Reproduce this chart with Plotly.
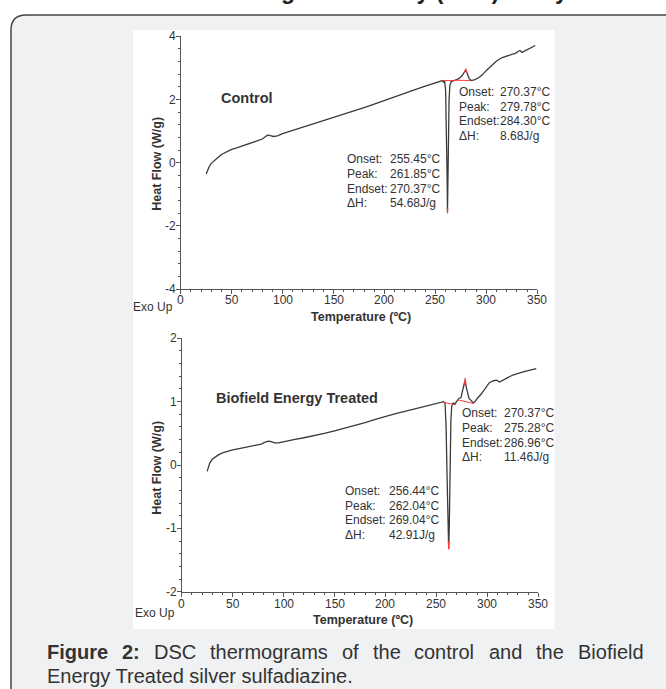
import plotly.graph_objects as go

W, H = 666, 689

# ---------------- data ----------------
control_T = [25, 26.5, 28, 30, 33, 36, 40, 45, 50, 55, 60, 65, 70, 75, 80, 83, 85.5, 88, 91, 95,
             100, 110, 120, 130, 140, 150, 160, 170, 180, 190, 200, 210, 220, 230, 240, 250,
             255, 257, 258, 259, 260, 260.8, 261.4, 261.85, 262.3, 262.8, 263.4, 264.2, 265.5,
             267, 270, 273, 276, 278, 279.8, 281.5, 283, 285, 288, 292, 296, 300, 305, 310,
             315, 320, 325, 329, 331, 333, 335, 337, 340, 345, 348]
control_Y = [-0.36, -0.22, -0.12, -0.02, 0.08, 0.15, 0.26, 0.34, 0.42, 0.47, 0.52, 0.58, 0.63,
             0.69, 0.75, 0.82, 0.88, 0.86, 0.83, 0.85, 0.92, 1.02, 1.12, 1.22, 1.32, 1.43, 1.53,
             1.63, 1.74, 1.85, 1.97, 2.08, 2.19, 2.31, 2.42, 2.52, 2.56, 2.60, 2.55, 2.58, 2.3,
             1.2, -0.3, -1.55, -0.3, 1.0, 2.0, 2.45, 2.57, 2.58, 2.62, 2.66, 2.75, 2.85, 2.93,
             2.80, 2.67, 2.60, 2.62, 2.68, 2.78, 2.92, 3.08, 3.22, 3.32, 3.38, 3.43, 3.47, 3.52,
             3.55, 3.49, 3.52, 3.58, 3.66, 3.71]

treated_T = [25, 26, 27.5, 30, 33, 36, 40, 45, 50, 60, 70, 78, 82, 85, 88, 91, 95, 100, 110,
             120, 130, 140, 150, 160, 170, 180, 190, 200, 210, 220, 230, 240, 250, 255, 257,
             258.5, 259.5, 260.5, 261.4, 262.04, 262.6, 263.3, 264.2, 265, 266.5, 268, 270,
             272, 274, 275.5, 277, 278, 279, 280.5, 282, 284, 286, 288, 290, 294, 298, 302,
             306, 309, 312, 315, 320, 325, 330, 335, 340, 345, 348]
treated_Y = [-0.10, -0.03, 0.03, 0.09, 0.13, 0.16, 0.19, 0.22, 0.24, 0.27, 0.30, 0.33, 0.36,
             0.375, 0.37, 0.35, 0.35, 0.37, 0.40, 0.43, 0.46, 0.50, 0.54, 0.58, 0.62, 0.67,
             0.72, 0.77, 0.81, 0.85, 0.89, 0.93, 0.97, 0.99, 1.00, 0.97, 0.6, -0.2, -1.0,
             -1.32, -1.0, -0.1, 0.7, 0.93, 0.98, 0.96, 1.0, 1.05, 1.06, 1.15, 1.25, 1.33, 1.25,
             1.12, 1.05, 1.02, 0.98, 1.0, 1.05, 1.12, 1.22, 1.30, 1.33, 1.34, 1.31, 1.34, 1.38,
             1.42, 1.45, 1.47, 1.49, 1.51, 1.52]

# red analysis overlays (baselines / peak tips)
control_red = [
    ([257.0, 270.37], [2.60, 2.60]),
    ([270.37, 284.30], [2.61, 2.60]),
    ([278.6, 279.78, 281.0], [2.86, 2.98, 2.84]),
    ([261.5, 261.85, 262.2], [-1.45, -1.60, -1.45]),
]
treated_red = [
    ([256.44, 269.04], [0.99, 0.95]),
    ([270.37, 286.96], [1.03, 0.97]),
    ([277.3, 278.2, 279.1], [1.26, 1.37, 1.26]),
    ([261.7, 262.04, 262.4], [-1.2, -1.33, -1.2]),
]

ann_labels = ["Onset:", "Peak:", "Endset:", "ΔH:"]
control_endo = ["255.45°C", "261.85°C", "270.37°C", "54.68J/g"]
control_exo = ["270.37°C", "279.78°C", "284.30°C", "8.68J/g"]
treated_endo = ["256.44°C", "262.04°C", "269.04°C", "42.91J/g"]
treated_exo = ["270.37°C", "275.28°C", "286.96°C", "11.46J/g"]

x_ticks = [0, 50, 100, 150, 200, 250, 300, 350]
y1_ticks = [-4, -2, 0, 2, 4]
y2_ticks = [-2, -1, 0, 1, 2]

caption_line1 = ["Figure", "2:", "DSC", "thermograms", "of", "the", "control", "and", "the", "Biofield"]
caption_line2 = "Energy Treated silver sulfadiazine."

# ---------------- helpers ----------------
def px(x):
    return x / W

def py(y):
    return 1 - y / H

FONT = "Liberation Sans, Arial, sans-serif"
TXT = "#333333"
AX = "#555555"

fig = go.Figure()

fig.add_trace(go.Scatter(x=control_T, y=control_Y, mode="lines", xaxis="x", yaxis="y",
                         line=dict(color="#3a3a3a", width=1.3), showlegend=False, hoverinfo="skip"))
for xs, ys in control_red:
    fig.add_trace(go.Scatter(x=xs, y=ys, mode="lines", xaxis="x", yaxis="y",
                             line=dict(color="#ff3b3b", width=1), showlegend=False, hoverinfo="skip"))
fig.add_trace(go.Scatter(x=treated_T, y=treated_Y, mode="lines", xaxis="x2", yaxis="y2",
                         line=dict(color="#3a3a3a", width=1.3), showlegend=False, hoverinfo="skip"))
for xs, ys in treated_red:
    fig.add_trace(go.Scatter(x=xs, y=ys, mode="lines", xaxis="x2", yaxis="y2",
                             line=dict(color="#ff3b3b", width=1), showlegend=False, hoverinfo="skip"))

def xaxis_cfg(dom, anchor):
    return dict(domain=dom, anchor=anchor, range=[0, 350], tickvals=x_ticks,
                showline=True, linecolor=AX, linewidth=1, ticks="outside", ticklen=4,
                tickcolor=AX, tickwidth=1, showgrid=False, zeroline=False, showticklabels=False,
                minor=dict(ticks="outside", ticklen=2, dtick=10, tick0=0, tickcolor=AX, showgrid=False),
                fixedrange=True)

def yaxis_cfg(dom, anchor, rng, ticks, mdt):
    return dict(domain=dom, anchor=anchor, range=rng, tickvals=ticks,
                showline=True, linecolor=AX, linewidth=1, ticks="outside", ticklen=4,
                tickcolor=AX, tickwidth=1, showgrid=False, zeroline=False, showticklabels=False,
                minor=dict(ticks="outside", ticklen=2, dtick=mdt, tick0=0, tickcolor=AX, showgrid=False),
                fixedrange=True)

x1_left, x2_left = 180.7, 181.7
x1dom = [px(x1_left), px(537.3)]
y1dom = [py(289.1), py(36.3)]
x2dom = [px(x2_left), px(538.3)]
y2dom = [py(591.7), py(338.3)]

shapes = []
# gray rounded panel
x0, y0, r, yb, xr = 11, 15, 15, 694, 680
path = (f"M {px(x0)},{py(yb)} L {px(x0)},{py(y0 + r)} Q {px(x0)},{py(y0)} {px(x0 + r)},{py(y0)} "
        f"L {px(xr)},{py(y0)} L {px(xr)},{py(yb)} Z")
shapes.append(dict(type="path", xref="paper", yref="paper", path=path,
                   fillcolor="#f0f1f3", line=dict(color="#444444", width=1.5), layer="below"))
# white chart image
shapes.append(dict(type="rect", xref="paper", yref="paper", x0=px(133), x1=px(554.5),
                   y0=py(629), y1=py(30), fillcolor="white", line=dict(width=0), layer="below"))

annotations = []

def ptext(x, y, text, size, bold=False, xanchor="center", yanchor="middle", angle=0, color=TXT):
    t = f"<b>{text}</b>" if bold else text
    annotations.append(dict(x=px(x), y=py(y), xref="paper", yref="paper", text=t,
                            showarrow=False, xanchor=xanchor, yanchor=yanchor, textangle=angle,
                            font=dict(family=FONT, size=size, color=color)))

def dtext(x, y, xr_, yr_, text, size, bold=False, xanchor="left"):
    t = f"<b>{text}</b>" if bold else text
    annotations.append(dict(x=x, y=y, xref=xr_, yref=yr_, text=t, showarrow=False,
                            xanchor=xanchor, yanchor="middle",
                            font=dict(family=FONT, size=size, color=TXT)))

# tick labels placed close to the axes (as in the instrument software output)
def xticklabels(xref, ypix):
    for t in x_ticks:
        annotations.append(dict(x=t, y=py(ypix), xref=xref, yref="paper", text=str(t),
                                showarrow=False, xanchor="center", yanchor="middle",
                                font=dict(family=FONT, size=12, color=TXT)))

def yticklabels(yref, xpix, ticks):
    for t in ticks:
        annotations.append(dict(x=px(xpix), y=t, xref="paper", yref=yref, text=str(t),
                                showarrow=False, xanchor="right", yanchor="middle",
                                font=dict(family=FONT, size=12, color=TXT)))

xticklabels("x", 300)
xticklabels("x2", 603.5)
yticklabels("y", x1_left - 2.5, y1_ticks)
yticklabels("y2", x2_left - 2.5, y2_ticks)

# page title (cut off at top, as in the source page)
ptext(332, 6, "Differential Scanning Calorimetry (DSC) Analysis", 23, bold=True,
      yanchor="bottom", color="#222222")

# axis titles and Exo Up
ptext(156.7, 164, "Heat Flow (W/g)", 12.5, bold=True, angle=-90)
ptext(156.7, 468, "Heat Flow (W/g)", 12.5, bold=True, angle=-90)
ptext(360.7, 316.5, "Temperature (ºC)", 12.5, bold=True)
ptext(362.5, 619.5, "Temperature (ºC)", 12.5, bold=True)
ptext(153.3, 306.7, "Exo Up", 12)
ptext(155, 613.3, "Exo Up", 12)

# sample names
dtext(65.1, 2.057, "x", "y", "Control", 14.5, bold=True, xanchor="center")
dtext(113.2, 1.054, "x2", "y2", "Biofield Energy Treated", 14.5, bold=True, xanchor="center")

def block(xl, xv, ys, vals, xr_, yr_):
    for lab, val, yy in zip(ann_labels, vals, ys):
        dtext(xl, yy, xr_, yr_, lab, 12)
        dtext(xv, yy, xr_, yr_, val, 12)

block(161.6, 203.2, [0.11, -0.355, -0.82, -1.285], control_endo, "x", "y")
block(270.9, 311.7, [2.228, 1.772, 1.319, 0.845], control_exo, "x", "y")
block(158.6, 201.2, [-0.406, -0.64, -0.874, -1.108], treated_endo, "x2", "y2")
block(273.1, 314.1, [0.817, 0.585, 0.353, 0.121], treated_exo, "x2", "y2")

# caption: justified first line (word widths in em, Arial metrics)
CAP = 20
em = [3.056, 0.889, 2.111, 5.890, 0.834, 1.390, 3.001, 1.668, 1.390, 3.279]
left, right = 44.6, 641.5
gap = ((right - left) - sum(em) * CAP) / (len(em) - 1)
xcur = left
for i, w in enumerate(caption_line1):
    ptext(xcur, 652, w, CAP, bold=(i < 2), xanchor="left")
    xcur += em[i] * CAP + gap
ptext(left, 675.5, caption_line2, CAP, xanchor="left")

fig.update_layout(
    width=W, height=H, margin=dict(l=0, r=0, t=0, b=0),
    paper_bgcolor="white", plot_bgcolor="rgba(0,0,0,0)",
    xaxis=xaxis_cfg(x1dom, "y"), yaxis=yaxis_cfg(y1dom, "x", [-4, 4], y1_ticks, 0.4),
    xaxis2=xaxis_cfg(x2dom, "y2"), yaxis2=yaxis_cfg(y2dom, "x2", [-2, 2], y2_ticks, 0.2),
    shapes=shapes, annotations=annotations, showlegend=False,
)

fig.write_html("out.html", config={"displayModeBar": False},
               post_script="document.body.style.margin='0px';document.body.style.overflow='hidden';")
